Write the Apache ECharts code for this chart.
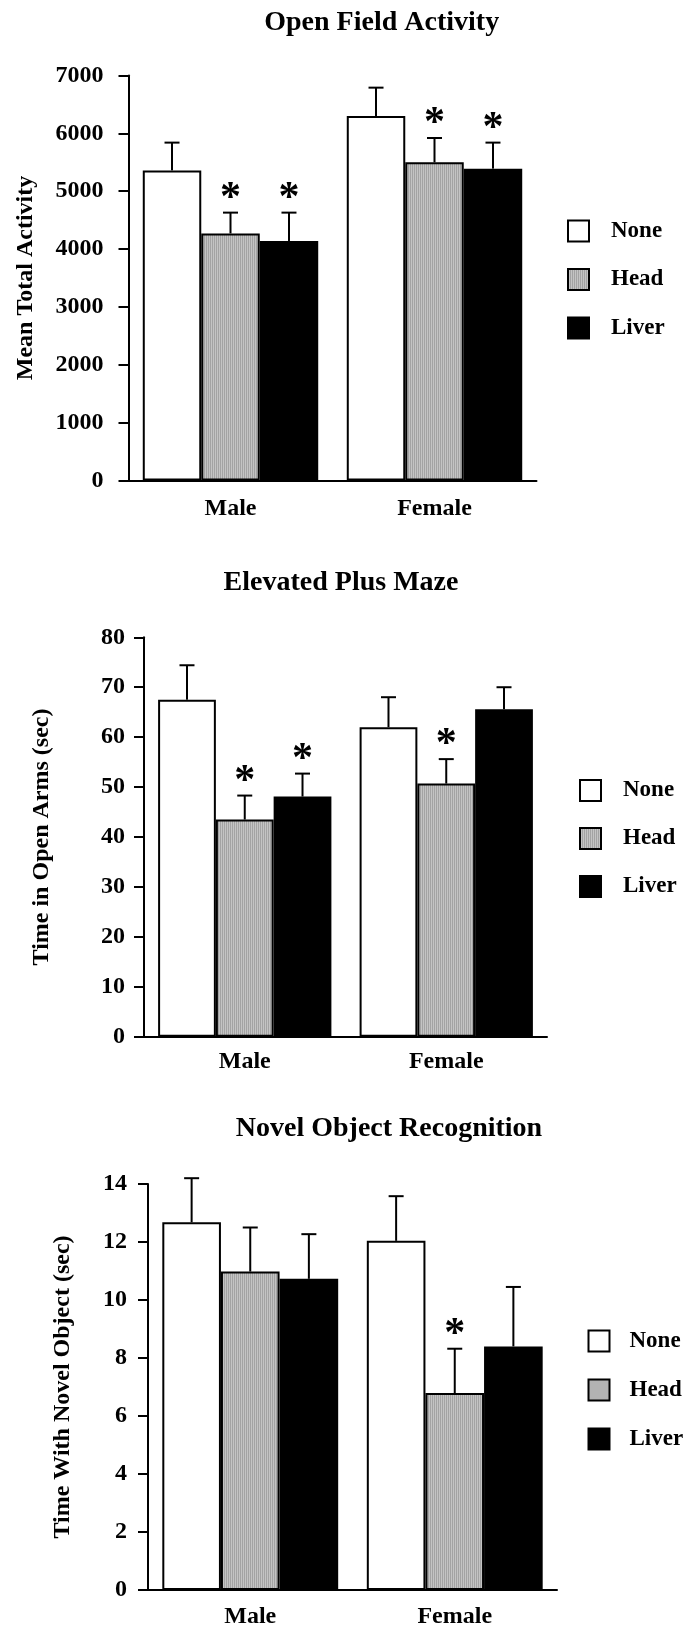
<!DOCTYPE html>
<html>
<head>
<meta charset="utf-8">
<script src="https://cdn.jsdelivr.net/npm/echarts@6/dist/echarts.min.js"></script>
<style>
html,body{margin:0;padding:0;background:#fff;}
#chart{width:685px;height:1630px;}
</style>
</head>
<body>
<div id="chart"></div>
<script>
// ---- data ----
const categories = ['Male', 'Female'];
const groups = ['None', 'Head', 'Liver'];

const titles = ['Open Field Activity', 'Elevated Plus Maze', 'Novel Object Recognition'];
const yNames = ['Mean Total Activity', 'Time in Open Arms (sec)', 'Time With Novel Object (sec)'];

// Open Field Activity
const ofNone = [5360, 6300];
const ofHead = [4270, 5500];
const ofLiver = [4140, 5390];
const ofNoneErr = [480, 490];
const ofHeadErr = [360, 420];
const ofLiverErr = [490, 450];
const ofNoneSig = [0, 0];
const ofHeadSig = [1, 1];
const ofLiverSig = [1, 1];

// Elevated Plus Maze
const epmNone = [67.5, 62.0];
const epmHead = [43.5, 50.7];
const epmLiver = [48.1, 65.6];
const epmNoneErr = [6.9, 6.0];
const epmHeadErr = [4.8, 4.9];
const epmLiverErr = [4.6, 4.4];
const epmNoneSig = [0, 0];
const epmHeadSig = [1, 1];
const epmLiverSig = [1, 0];

// Novel Object Recognition
const norNone = [12.68, 12.04];
const norHead = [10.98, 6.79];
const norLiver = [10.73, 8.40];
const norNoneErr = [1.52, 1.54];
const norHeadErr = [1.52, 1.53];
const norLiverErr = [1.54, 2.05];
const norNoneSig = [0, 0];
const norHeadSig = [0, 1];
const norLiverSig = [0, 0];

// axis ranges / ticks
const yMax = [7000, 80, 14];
const yInterval = [1000, 10, 2];

// ---- styling ----
const FONT = '"Liberation Serif", "Times New Roman", serif';
const GAP = 0.14;

const stripe = document.createElement('canvas');
stripe.width = 2; stripe.height = 2;
(function () {
  const c = stripe.getContext('2d');
  c.fillStyle = '#a3a3a3'; c.fillRect(0, 0, 1, 2);
  c.fillStyle = '#c4c4c4'; c.fillRect(1, 0, 1, 2);
})();
const fills = ['#ffffff', { image: stripe, repeat: 'repeat' }, '#000000'];

const panels = [
  { vals: [ofNone, ofHead, ofLiver], errs: [ofNoneErr, ofHeadErr, ofLiverErr], sigs: [ofNoneSig, ofHeadSig, ofLiverSig] },
  { vals: [epmNone, epmHead, epmLiver], errs: [epmNoneErr, epmHeadErr, epmLiverErr], sigs: [epmNoneSig, epmHeadSig, epmLiverSig] },
  { vals: [norNone, norHead, norLiver], errs: [norNoneErr, norHeadErr, norLiverErr], sigs: [norNoneSig, norHeadSig, norLiverSig] }
];

const layout = [
  { grid: { left: 128.5, top: 75.5, width: 408, height: 405 }, title: [381.7, 9], legend: [567, 219.5, 25.5, 17], yLabelMargin: 25, nameGap: 91, xMargin: 16 },
  { grid: { left: 144, top: 637.3, width: 403, height: 399.4 }, title: [341, 569], legend: [579, 779, 25, 17], yLabelMargin: 19, nameGap: 90, xMargin: 13 },
  { grid: { left: 148, top: 1184, width: 409, height: 406 }, title: [389, 1115], legend: [587.5, 1329.5, 26, 15], yLabelMargin: 21, nameGap: 73, xMargin: 15 }
];

const textBase = { fontFamily: FONT, fontWeight: 'bold', color: '#000' };
const axisLineStyle = { color: '#000', width: 2 };

const option = {
  animation: false,
  backgroundColor: '#fff',
  title: [], legend: [], grid: [], xAxis: [], yAxis: [], series: []
};

panels.forEach((p, k) => {
  const L = layout[k];
  option.title.push({
    text: titles[k], left: L.title[0], top: L.title[1], textAlign: 'center', padding: 0,
    textStyle: Object.assign({ fontSize: 28, lineHeight: 28 }, textBase)
  });
  option.legend.push({
    data: groups, orient: 'vertical', left: L.legend[0], top: L.legend[1], itemGap: L.legend[2],
    itemWidth: 21, itemHeight: 21, icon: 'rect', selectedMode: false, padding: 0,
    itemStyle: { borderColor: '#000', borderWidth: 2 },
    textStyle: Object.assign({ fontSize: 23, padding: [0, 0, 0, L.legend[3]] }, textBase)
  });
  option.grid.push(L.grid);
  option.xAxis.push({
    type: 'category', gridIndex: k, data: categories, boundaryGap: true,
    axisLine: { lineStyle: axisLineStyle },
    axisTick: { alignWithLabel: true, length: 10, lineStyle: axisLineStyle },
    axisLabel: Object.assign({ fontSize: 24, margin: L.xMargin }, textBase),
    splitLine: { show: false }
  });
  option.yAxis.push({
    type: 'value', gridIndex: k, min: 0, max: yMax[k], interval: yInterval[k],
    name: yNames[k], nameLocation: 'middle', nameRotate: 90, nameGap: L.nameGap,
    nameTextStyle: Object.assign({ fontSize: 24 }, textBase),
    axisLine: { show: true, lineStyle: axisLineStyle },
    axisTick: { show: true, length: 10, lineStyle: axisLineStyle },
    axisLabel: Object.assign({ fontSize: 24, margin: L.yLabelMargin, formatter: function (v) { return String(v); } }, textBase),
    splitLine: { show: false }
  });
  groups.forEach((g, s) => {
    option.series.push({
      type: 'bar', name: g, xAxisIndex: k, yAxisIndex: k, data: p.vals[s],
      barGap: '0%', barCategoryGap: (GAP * 100) + '%',
      itemStyle: { color: fills[s], borderColor: '#000', borderWidth: 2 },
      emphasis: { disabled: true }
    });
  });
  const errData = [];
  groups.forEach((g, s) => {
    categories.forEach((c, i) => {
      errData.push([i, s, p.vals[s][i], p.errs[s][i], p.sigs[s][i]]);
    });
  });
  option.series.push({
    type: 'custom', xAxisIndex: k, yAxisIndex: k, data: errData, z: 5,
    encode: { x: 0, y: 2 },
    renderItem: function (params, api) {
      const ci = api.value(0), s = api.value(1), v = api.value(2), e = api.value(3), sig = api.value(4);
      const band = api.size([1, 0])[0];
      const bw = band * (1 - GAP) / 3;
      const base = api.coord([ci, v]);
      const x = base[0] + (s - 1) * bw;
      const y0 = base[1];
      const y1 = api.coord([ci, v + e])[1];
      const style = { stroke: '#000', lineWidth: 2 };
      const children = [
        { type: 'line', shape: { x1: x, y1: y0, x2: x, y2: y1 }, style: style },
        { type: 'line', shape: { x1: x - 7.5, y1: y1, x2: x + 7.5, y2: y1 }, style: style }
      ];
      if (sig) {
        children.push({
          type: 'text', x: x, y: y1 - 13.5,
          style: { text: '*', fontFamily: FONT, fontWeight: 'bold', fontSize: 42, fill: '#000', align: 'center', verticalAlign: 'middle' }
        });
      }
      return { type: 'group', children: children };
    }
  });
});

const chart = echarts.init(document.getElementById('chart'), null, { renderer: 'canvas' });
chart.setOption(option);
</script>
</body>
</html>
